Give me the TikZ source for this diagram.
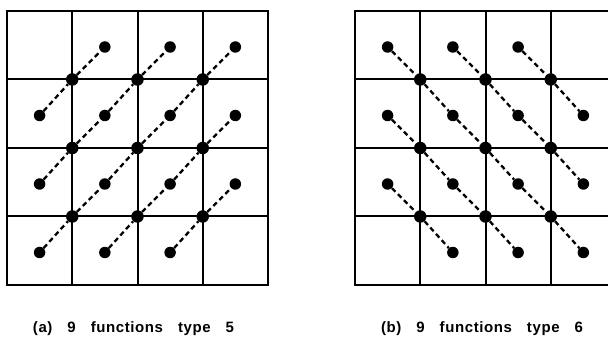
\documentclass[tikz,border=0pt]{standalone}
\usepackage{fontspec}
\newfontfamily\capfont[LetterSpace=4]{Liberation Sans}
\usepackage{tikz}
\usetikzlibrary{positioning}

\begin{document}
\begin{tikzpicture}[x=1pt, y=1pt,
    gridline/.style={line width=2pt, line cap=rect},
    pdot/.style={circle, fill, inner sep=0pt, minimum size=11.5pt},
    vdot/.style={circle, fill, inner sep=0pt, minimum size=12.5pt},
    link/.style={line width=2.3pt, dash pattern=on 5pt off 3.5pt},
    caption/.style={anchor=base, font=\capfont\bfseries\fontsize{15}{17}\selectfont}]
        \useasboundingbox (0,0) rectangle (608,337);
        \clip (0,0) rectangle (608,337);

        % the two 4x4 grids
        \foreach \x in {7, 355} {
            \foreach \i in {0,...,4}
                \draw[gridline] (\x+65.25*\i, 52) -- (\x+65.25*\i, 326);
            \foreach \j in {0,...,4}
                \draw[gridline] (\x, 52+68.5*\j) -- (\x+261, 52+68.5*\j);
        }

        % inner grid points
        \foreach \g/\x in {a/7, b/355}
            \foreach \i in {1,2,3}
                \foreach \j in {1,2,3}
                    \node[vdot] (\g-v-\i-\j) at (\x+65.25*\i, 326-68.5*\j) {};

        % cell points
        \foreach \i/\j in {1/0,2/0,3/0,0/1,1/1,2/1,3/1,0/2,1/2,2/2,3/2,0/3,1/3,2/3}
            \node[pdot] (a-c-\i-\j) at (7+65.25*\i+32.6, 290-68.5*\j) {};
        \foreach \i/\j in {0/0,1/0,2/0,0/1,1/1,2/1,3/1,0/2,1/2,2/2,3/2,1/3,2/3,3/3}
            \node[pdot] (b-c-\i-\j) at (355+65.25*\i+32.6, 290-68.5*\j) {};

        % the functions
        \foreach \i [evaluate=\i as \ip using int(\i-1)] in {1,2,3} {
            \foreach \j [evaluate=\j as \jq using int(\j-1)] in {1,2,3} {
                \draw[link] (a-c-\ip-\j) -- (a-v-\i-\j) -- (a-c-\i-\jq);
                \draw[link] (b-c-\ip-\jq) -- (b-v-\i-\j) -- (b-c-\i-\j);
            }
        }

        \node[caption] (alabel) at (133.5, 4) {(a)\hspace{15pt}9\hspace{15pt}functions\hspace{15pt}type\hspace{15pt}5};
        \node[caption] (blabel) at (482, 4) {(b)\hspace{15pt}9\hspace{15pt}functions\hspace{15pt}type\hspace{15pt}6};
    \end{tikzpicture}
\end{document}
